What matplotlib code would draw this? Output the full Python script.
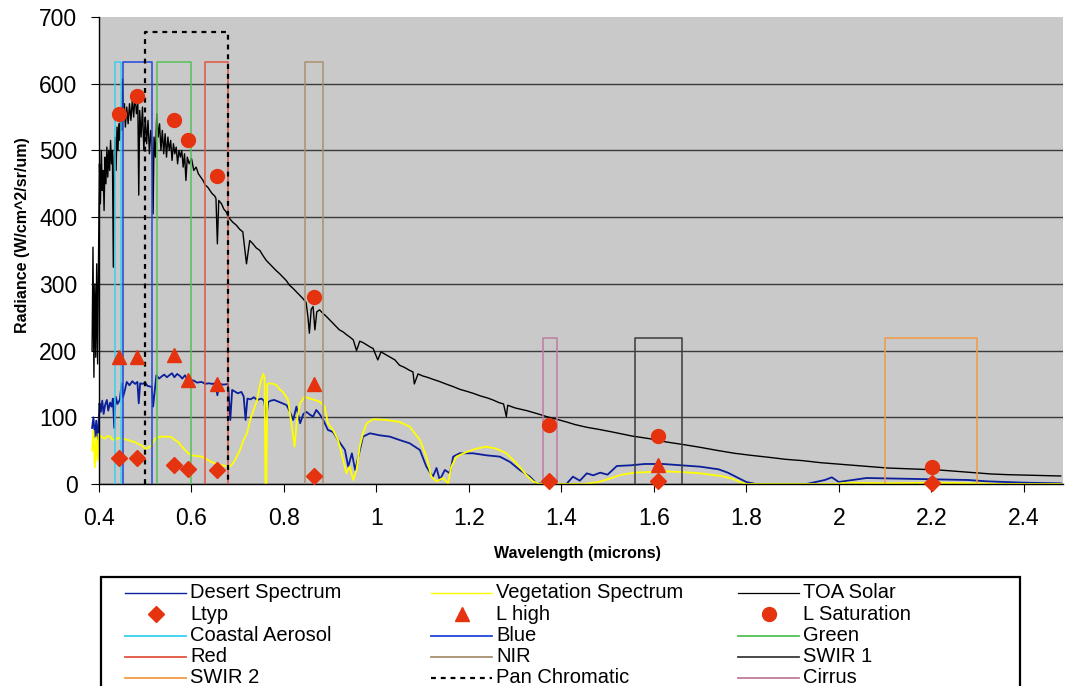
import numpy as np
import matplotlib.pyplot as plt
from matplotlib.lines import Line2D
from matplotlib.patches import Rectangle

plt.rcParams['font.family'] = ['Liberation Sans', 'DejaVu Sans']

# ---- data ----
# (wavelength in microns, radiance)
solar = [(0.385,200),(0.387,355),(0.389,160),(0.391,300),(0.393,190),(0.395,330),(0.397,180),(0.399,340),
         (0.401,480),(0.403,420),(0.405,500),(0.407,440),(0.409,470),(0.411,410),(0.413,490),(0.415,450),
         (0.417,505),(0.419,460),(0.421,500),(0.423,470),(0.425,515),(0.427,480),(0.429,500),(0.431,325),
         (0.433,490),(0.435,520),(0.437,470),(0.439,535),(0.441,500),(0.443,540),(0.445,515),(0.447,560),
         (0.449,530),(0.451,607),(0.453,550),(0.455,570),(0.457,535),(0.460,565),(0.463,540),(0.466,570),
         (0.469,545),(0.472,575),(0.475,550),(0.478,585),(0.481,555),(0.484,570),(0.486,433),(0.488,560),
         (0.491,520),(0.494,565),(0.497,500),(0.500,550),(0.503,510),(0.506,545),(0.509,495),(0.512,530),
         (0.515,500),(0.517,405),(0.519,520),(0.522,490),(0.525,555),(0.528,520),(0.531,540),(0.534,500),
         (0.537,530),(0.540,495),(0.543,525),(0.546,490),(0.549,520),(0.552,500),(0.555,515),(0.558,485),
         (0.561,510),(0.564,495),(0.567,505),(0.570,480),(0.573,500),(0.576,490),(0.579,500),(0.582,475),
         (0.585,495),(0.588,455),(0.591,490),(0.595,480),(0.600,488),(0.605,470),(0.610,475),(0.615,465),
         (0.620,460),(0.625,455),(0.630,448),(0.635,445),(0.640,440),(0.645,435),(0.650,432),(0.653,428),
         (0.656,360),(0.659,425),(0.665,420),(0.670,412),(0.675,408),(0.680,400),(0.686,395),(0.690,392),
         (0.697,388),(0.704,382),(0.711,378),(0.719,330),(0.726,365),(0.733,360),(0.740,354),(0.748,350),
         (0.755,342),(0.762,335),(0.769,330),(0.776,325),(0.783,320),(0.791,315),(0.798,310),(0.805,305),
         (0.812,298),(0.820,293),(0.827,288),(0.834,283),(0.841,278),(0.848,272),(0.852,250),(0.855,226),
         (0.859,262),(0.863,266),(0.867,231),(0.871,258),(0.877,261),(0.884,256),(0.892,251),(0.899,246),
         (0.906,241),(0.913,236),(0.920,231),(0.928,228),(0.935,224),(0.943,220),(0.950,216),(0.957,200),
         (0.964,214),(0.971,212),(0.978,209),(0.985,206),(0.993,203),(1.003,186),(1.010,198),(1.020,194),
         (1.030,190),(1.040,186),(1.050,178),(1.060,175),(1.070,171),(1.079,168),(1.082,150),(1.090,165),
         (1.100,162),(1.110,160),(1.122,157),(1.135,154),(1.150,150),(1.166,146),(1.180,142),(1.195,139),
         (1.209,136),(1.225,132),(1.240,129),(1.252,126),(1.265,122),(1.275,120),(1.281,101),(1.284,118),
         (1.300,114),(1.325,110),(1.350,105),(1.368,101),(1.390,97),(1.411,93),(1.430,89),(1.455,85),
         (1.480,82),(1.510,78),(1.552,72),(1.590,68),(1.627,63),(1.665,59),(1.700,55),(1.740,50),
         (1.775,46),(1.810,43),(1.849,40),(1.885,37),(1.922,35),(1.960,32),(1.996,30),(2.030,28),
         (2.069,26),(2.105,24),(2.143,23),(2.180,22),(2.217,21),(2.255,19),(2.291,17),(2.330,15),
         (2.365,14),(2.420,13),(2.480,12)]

desert = [(0.385,84),(0.388,100),(0.391,70),(0.394,95),(0.397,62),(0.399,90),
          (0.401,121),(0.404,108),(0.407,125),(0.410,105),(0.413,118),(0.417,126),(0.420,110),(0.424,122),
          (0.427,116),(0.430,128),(0.433,84),(0.436,131),(0.440,120),(0.445,126),(0.449,151),(0.452,130),
          (0.456,141),(0.460,153),(0.466,148),(0.472,154),(0.478,150),(0.483,153),(0.486,121),(0.489,151),
          (0.494,150),(0.500,152),(0.505,147),(0.511,146),(0.514,146),(0.517,116),(0.520,136),(0.524,163),
          (0.530,158),(0.535,161),(0.541,164),(0.547,160),(0.552,163),(0.558,166),(0.563,160),(0.569,165),
          (0.575,162),(0.580,158),(0.586,163),(0.590,158),(0.597,156),(0.605,155),(0.612,152),(0.622,153),
          (0.630,150),(0.637,151),(0.645,150),(0.652,151),(0.656,133),(0.660,150),(0.670,149),(0.679,150),
          (0.684,96),(0.688,141),(0.695,138),(0.700,136),(0.708,138),(0.713,131),(0.717,96),(0.721,128),
          (0.728,127),(0.735,130),(0.742,126),(0.751,128),(0.757,125),(0.762,100),(0.766,123),(0.772,125),
          (0.779,126),(0.786,124),(0.793,122),(0.800,120),(0.806,118),(0.813,108),(0.820,96),(0.827,116),
          (0.835,91),(0.842,105),(0.849,108),(0.856,104),(0.863,101),(0.870,111),(0.878,104),(0.885,96),
          (0.895,81),(0.906,78),(0.917,66),(0.928,55),(0.932,51),(0.939,26),(0.947,46),(0.954,21),
          (0.961,41),(0.971,71),(0.986,76),(1.007,73),(1.029,71),(1.050,66),(1.072,61),(1.094,51),
          (1.108,26),(1.122,11),(1.130,24),(1.137,6),(1.148,21),(1.159,16),(1.166,41),(1.180,46),
          (1.209,46),(1.238,43),(1.267,41),(1.289,33),(1.310,21),(1.332,11),(1.346,1),(1.380,0),
          (1.411,0),(1.425,11),(1.440,5),(1.455,16),(1.469,13),(1.484,17),(1.500,14),(1.520,27),
          (1.550,28),(1.580,30),(1.620,30),(1.660,28),(1.700,26),(1.740,22),(1.760,17),(1.780,10),
          (1.800,3),(1.820,0),(1.930,0),(1.950,3),(1.970,6),(1.985,10),(2.000,3),(2.030,6),
          (2.060,9),(2.130,8),(2.200,7),(2.280,6),(2.320,4),(2.400,2),(2.480,1)]

vegetation = [(0.385,50),(0.388,80),(0.391,25),(0.394,70),(0.397,35),(0.399,75),
              (0.401,73),(0.407,70),(0.413,68),(0.418,72),(0.424,71),(0.429,67),(0.434,66),(0.441,69),
              (0.448,68),(0.456,67),(0.463,66),(0.470,64),(0.477,63),(0.485,60),(0.492,58),(0.499,53),
              (0.506,54),(0.514,58),(0.521,68),(0.528,70),(0.535,71),(0.542,71),(0.550,71),(0.557,70),
              (0.564,66),(0.571,63),(0.578,57),(0.586,51),(0.593,46),(0.600,43),(0.611,42),(0.622,41),
              (0.633,37),(0.643,33),(0.654,30),(0.665,28),(0.675,27),(0.683,26),(0.690,31),(0.697,40),
              (0.705,51),(0.712,65),(0.720,76),(0.727,96),(0.734,110),(0.742,126),(0.749,151),(0.755,165),
              (0.758,160),(0.760,0),(0.762,0),(0.764,150),(0.770,151),(0.777,150),(0.784,148),(0.792,141),
              (0.798,138),(0.809,126),(0.816,91),(0.823,56),(0.828,96),(0.835,121),(0.845,131),(0.856,128),
              (0.867,126),(0.878,123),(0.888,116),(0.895,91),(0.906,81),(0.917,66),(0.928,36),(0.935,16),
              (0.942,26),(0.950,6),(0.957,21),(0.964,56),(0.971,76),(0.979,91),(0.993,97),(1.022,96),
              (1.050,93),(1.072,86),(1.094,66),(1.108,41),(1.119,11),(1.130,4),(1.144,9),(1.155,1),
              (1.162,26),(1.173,41),(1.195,48),(1.216,53),(1.238,56),(1.259,53),(1.281,46),(1.303,31),
              (1.325,13),(1.339,4),(1.353,0),(1.450,0),(1.480,3),(1.500,7),(1.530,14),(1.560,17),
              (1.620,19),(1.660,18),(1.700,16),(1.745,12),(1.770,8),(1.790,2),(1.800,0),(1.990,0),
              (2.020,2),(2.100,1),(2.200,2),(2.300,1),(2.350,0),(2.480,0)]

# band centres and radiance specs
spec_wl = [0.443, 0.482, 0.562, 0.592, 0.655, 0.865, 1.373, 1.609, 2.201]
l_typ = [39, 39, 29, 22, 21, 12, 5, 4, 1]
l_high = [190, 190, 194, 156, 150, 150, np.nan, 29, np.nan]
l_sat = [555, 582, 545, 516, 462, 281, 88, 72, 25]

# spectral band boxes
band_names = ['Coastal Aerosol', 'Blue', 'Green', 'Red', 'NIR', 'SWIR 1', 'SWIR 2', 'Pan Chromatic', 'Cirrus']
band_lo = [0.435, 0.452, 0.525, 0.630, 0.845, 1.560, 2.100, 0.500, 1.360]
band_hi = [0.448, 0.515, 0.600, 0.680, 0.885, 1.660, 2.300, 0.680, 1.390]
band_top = [632, 632, 632, 632, 632, 219, 219, 677, 219]
band_col = ['#38D0EE', '#2244DD', '#55C055', '#E0553F', '#A89070', '#3A3A3A', '#F29A45', 'black', '#C07CA0']

RED = '#E5330F'
NAVY = '#0B1F9A'

W, H = 1065, 686
fig = plt.figure(figsize=(W/100, H/100), dpi=100)
ax = fig.add_axes([99/W, 1-484/H, 964/W, 467/H])
ax.set_facecolor('#C9C9C9')

def xy(pairs):
    a = np.array(pairs, dtype=float)
    return a[:, 0], a[:, 1]

x, y = xy(desert)
ax.plot(x, y, color=NAVY, lw=1.3, clip_on=False, zorder=2)
x, y = xy(vegetation)
ax.plot(x, y, color='#FFFF00', lw=1.3, clip_on=False, zorder=2.1)
x, y = xy(solar)
ax.plot(x, y, color='black', lw=1.0, clip_on=False, zorder=2.2)

for name, lo, hi, top, c in zip(band_names, band_lo, band_hi, band_top, band_col):
    if name == 'Pan Chromatic':
        ax.plot([lo, lo, hi, hi], [0, top, top, 0], color=c, lw=1.6,
                dashes=(2.2, 2.2), zorder=3.5)
    else:
        ax.plot([lo, lo, hi, hi], [0, top, top, 0], color=c, lw=1.1, zorder=3)

ax.plot(spec_wl, l_typ, ls='none', marker='D', ms=7.8, color=RED, zorder=4, clip_on=False)
ax.plot(spec_wl, l_high, ls='none', marker='^', ms=9.5, color=RED, zorder=4, clip_on=False)
ax.plot(spec_wl, l_sat, ls='none', marker='o', ms=10, color=RED, zorder=4, clip_on=False)

ax.set_xlim(0.4, 2.485)
ax.set_ylim(0, 700)
xt = np.arange(0.4, 2.41, 0.2)
ax.set_xticks(xt)
ax.set_xticklabels(['{:g}'.format(round(v, 1)) for v in xt])
ax.set_yticks(range(0, 701, 100))
ax.tick_params(labelsize=16.5, length=5.5, width=0.8, direction='out')
ax.tick_params(axis='x', pad=11)
ax.tick_params(axis='y', pad=10)

ax.set_axisbelow(True)
ax.yaxis.grid(True, color='#3A3A3A', lw=1.0)
ax.get_ygridlines()[-1].set_visible(False)
for s in ['top', 'right']:
    ax.spines[s].set_visible(False)
for s in ['left', 'bottom']:
    ax.spines[s].set_linewidth(1.0)

ax.set_xlabel('Wavelength (microns)', fontsize=11.5, fontweight='bold')
ax.xaxis.set_label_coords(0.496, -0.133)
ax.set_ylabel('Radiance (W/cm^2/sr/um)', fontsize=11.5, fontweight='bold')
ax.yaxis.set_label_coords(-0.072, 0.533)

# ---- legend, laid out like the spreadsheet one ----
leg_items = [
    ('Desert Spectrum', dict(color=NAVY, lw=1.0)),
    ('Vegetation Spectrum', dict(color='#FFFF00', lw=1.0)),
    ('TOA Solar', dict(color='black', lw=0.9)),
    ('Ltyp', dict(ls='none', marker='D', ms=7.8, color=RED)),
    ('L high', dict(ls='none', marker='^', ms=9.5, color=RED)),
    ('L Saturation', dict(ls='none', marker='o', ms=10, color=RED)),
]
for name, c in zip(band_names, band_col):
    if name == 'Pan Chromatic':
        leg_items.append((name, dict(color=c, lw=1.6, dashes=(2.2, 2.2))))
    else:
        leg_items.append((name, dict(color=c, lw=1.3)))
# reorder the band part to the row order of the reference
order = ['Desert Spectrum', 'Vegetation Spectrum', 'TOA Solar', 'Ltyp', 'L high', 'L Saturation',
         'Coastal Aerosol', 'Blue', 'Green', 'Red', 'NIR', 'SWIR 1', 'SWIR 2', 'Pan Chromatic', 'Cirrus']
leg_items = sorted(leg_items, key=lambda it: order.index(it[0]))

col_x = [125, 431, 738]
row_y = [592.5, 614, 635.5, 656.5, 677.5]
hlen = 61
for i, (label, kw) in enumerate(leg_items):
    x0 = col_x[i % 3]
    yy = 1 - row_y[i // 3] / H
    if kw.get('marker'):
        fig.add_artist(Line2D([(x0 + hlen/2)/W], [yy], transform=fig.transFigure, **kw))
    else:
        fig.add_artist(Line2D([x0/W, (x0 + hlen)/W], [yy, yy], transform=fig.transFigure, **kw))
    fig.text((x0 + 65)/W, yy, label, fontsize=14.5, va='center', ha='left')

fig.add_artist(Rectangle((101/W, 1 - 700/H), (1020 - 101)/W, (700 - 577)/H,
                         transform=fig.transFigure, fill=False, lw=1.6, ec='black'))

fig.savefig('out.png', dpi=100)
